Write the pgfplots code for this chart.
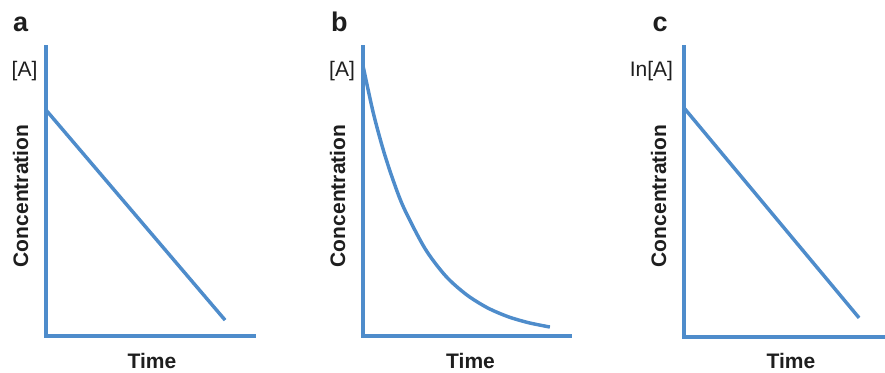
\documentclass[border=0pt]{standalone}
\usepackage{fontspec}
\setmainfont{Liberation Sans}
\usepackage{pgfplots}
\pgfplotsset{compat=1.18}
\definecolor{cblue}{RGB}{78,140,203}
\definecolor{txt}{RGB}{30,30,30}
\pgfplotsset{
  panel/.style={
    scale only axis,
    anchor=origin,
    axis lines=left,
    axis line style={-, draw=cblue, line width=2.3pt, line cap=rect},
    xmin=0, xmax=1, ymin=0, ymax=1,
    xtick=\empty, ytick=\empty,
    clip=false,
  },
  dataline/.style={draw=cblue, line width=2.6pt, no marks},
}
\begin{document}
\begin{tikzpicture}
\path[use as bounding box] (0,0) rectangle (663.75pt,279pt);
% panel a
\begin{axis}[panel, at={(34.5pt,27pt)}, width=156pt, height=216.75pt]
\addplot[dataline, line width=2.6pt] coordinates {(0,0.782) (0.861,0.055)};
\end{axis}
% panel b
\begin{axis}[panel, at={(272.25pt,27pt)}, width=155.25pt, height=216.75pt]
\addplot[dataline, line width=2.6pt, smooth] coordinates {
(0,0.935) (0.05,0.771) (0.1,0.639) (0.15,0.530) (0.2,0.439)
(0.3,0.302) (0.4,0.207) (0.5,0.143) (0.6,0.098) (0.7,0.067)
(0.8,0.046) (0.903,0.031)};
\end{axis}
% panel c
\begin{axis}[panel, at={(513pt,26.25pt)}, width=150.75pt, height=217.5pt]
\addplot[dataline, line width=2.6pt] coordinates {(0,0.790) (0.871,0.066)};
\end{axis}
% texts
\begin{scope}[every node/.style={text=txt, inner sep=0pt}]
\node[anchor=base, font=\fontsize{20.25pt}{24pt}\selectfont\bfseries] at (15.4pt,255pt) {a};
\node[anchor=base, font=\fontsize{20.25pt}{24pt}\selectfont\bfseries] at (254.6pt,255pt) {b};
\node[anchor=base, font=\fontsize{20.25pt}{24pt}\selectfont\bfseries] at (495pt,255pt) {c};
\node[anchor=base, font=\fontsize{15.75pt}{19pt}\selectfont] at (18.4pt,221.25pt) {[A]};
\node[anchor=base, font=\fontsize{15.75pt}{19pt}\selectfont] at (256.5pt,221.25pt) {[A]};
\node[anchor=base, font=\fontsize{15.75pt}{19pt}\selectfont] at (488.6pt,221.25pt) {In[A]};
\node[anchor=base, rotate=90, font=\fontsize{15.75pt}{19pt}\selectfont\bfseries] at (21pt,132pt) {Concentration};
\node[anchor=base, rotate=90, font=\fontsize{15.75pt}{19pt}\selectfont\bfseries] at (258.75pt,132pt) {Concentration};
\node[anchor=base, rotate=90, font=\fontsize{15.75pt}{19pt}\selectfont\bfseries] at (499.5pt,132pt) {Concentration};
\node[anchor=base, font=\fontsize{15.75pt}{19pt}\selectfont\bfseries] at (114pt,3pt) {Time};
\node[anchor=base, font=\fontsize{15.75pt}{19pt}\selectfont\bfseries] at (352.9pt,3pt) {Time};
\node[anchor=base, font=\fontsize{15.75pt}{19pt}\selectfont\bfseries] at (593.25pt,3pt) {Time};
\end{scope}
\end{tikzpicture}
\end{document}
